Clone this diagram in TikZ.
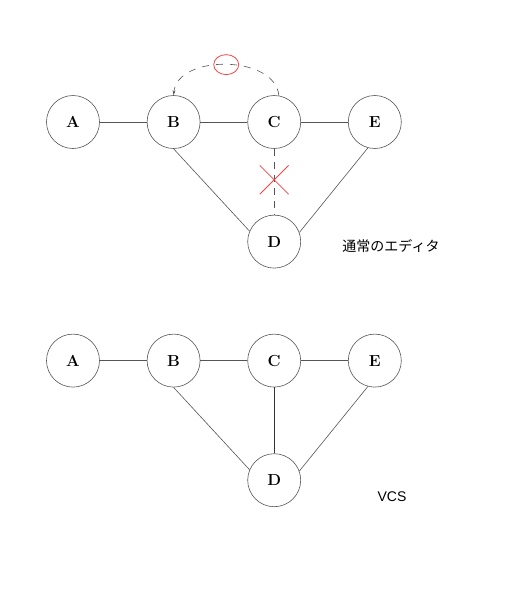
\documentclass[tikz,border=0pt]{standalone}
\usepackage{fontspec}
\usepackage{tikz}
\usetikzlibrary{arrows.meta,positioning,shapes.geometric,shapes.misc}
\newfontfamily\jpfont{Noto Sans CJK JP}
\newfontfamily\labelfont{Liberation Sans}
\definecolor{Edge}{HTML}{555555}
\definecolor{Cut}{HTML}{F04545}

\begin{document}
\begin{tikzpicture}[x=1pt,y=1pt,
  vertex/.style={circle,draw=Edge,line width=0.6pt,minimum size=53pt,inner sep=0pt,
    font=\fontsize{16}{16}\selectfont\bfseries},
  link/.style={draw=Edge,line width=0.6pt},
  cutmark/.style={cross out,draw=Cut,solid,line width=0.8pt,minimum size=28pt,inner sep=0pt},
  node distance=47pt]
  \useasboundingbox (0,0) rectangle (512,-600);

  % normal editor
  \node[vertex] (a) at (73,-122) {A};
  \node[vertex,right=of a] (b) {B};
  \node[vertex,right=of b] (c) {C};
  \node[vertex,right=of c] (e) {E};
  \node[vertex,below=66pt of c] (d) {D};
  \draw[link] (a) -- (b) -- (c) -- (e);
  \draw[link] (b.south) -- (d.157);
  \draw[link] (e.255) -- (d.20);
  \draw[link,dashed,dash pattern=on 7pt off 6pt] (c) -- node[cutmark,pos=0.47] (cut) {} (d);
  \draw[link,dashed,dash pattern=on 7pt off 7pt,-{Stealth[length=5pt,width=3pt]}]
    (c.80) to[out=95,in=85]
    node[ellipse,draw=Cut,solid,line width=0.8pt,minimum width=25pt,minimum height=20pt,pos=0.5] (ring) {}
    (b.north);
  \node[font=\jpfont\fontsize{14}{14}\selectfont] (editor) at (391,-246) {通常のエディタ};

  % VCS
  \node[vertex,below=185pt of a] (a2) {A};
  \node[vertex,right=of a2] (b2) {B};
  \node[vertex,right=of b2] (c2) {C};
  \node[vertex,right=of c2] (e2) {E};
  \node[vertex,below=66pt of c2] (d2) {D};
  \draw[link] (a2) -- (b2) -- (c2) -- (e2);
  \draw[link] (b2.south) -- (d2.157);
  \draw[link] (e2.255) -- (d2.20);
  \draw[link,draw=black!80] (c2) -- (d2);
  \node[font=\labelfont\fontsize{14}{14}\selectfont] (vcs) at (392,-497) {VCS};
\end{tikzpicture}
\end{document}
